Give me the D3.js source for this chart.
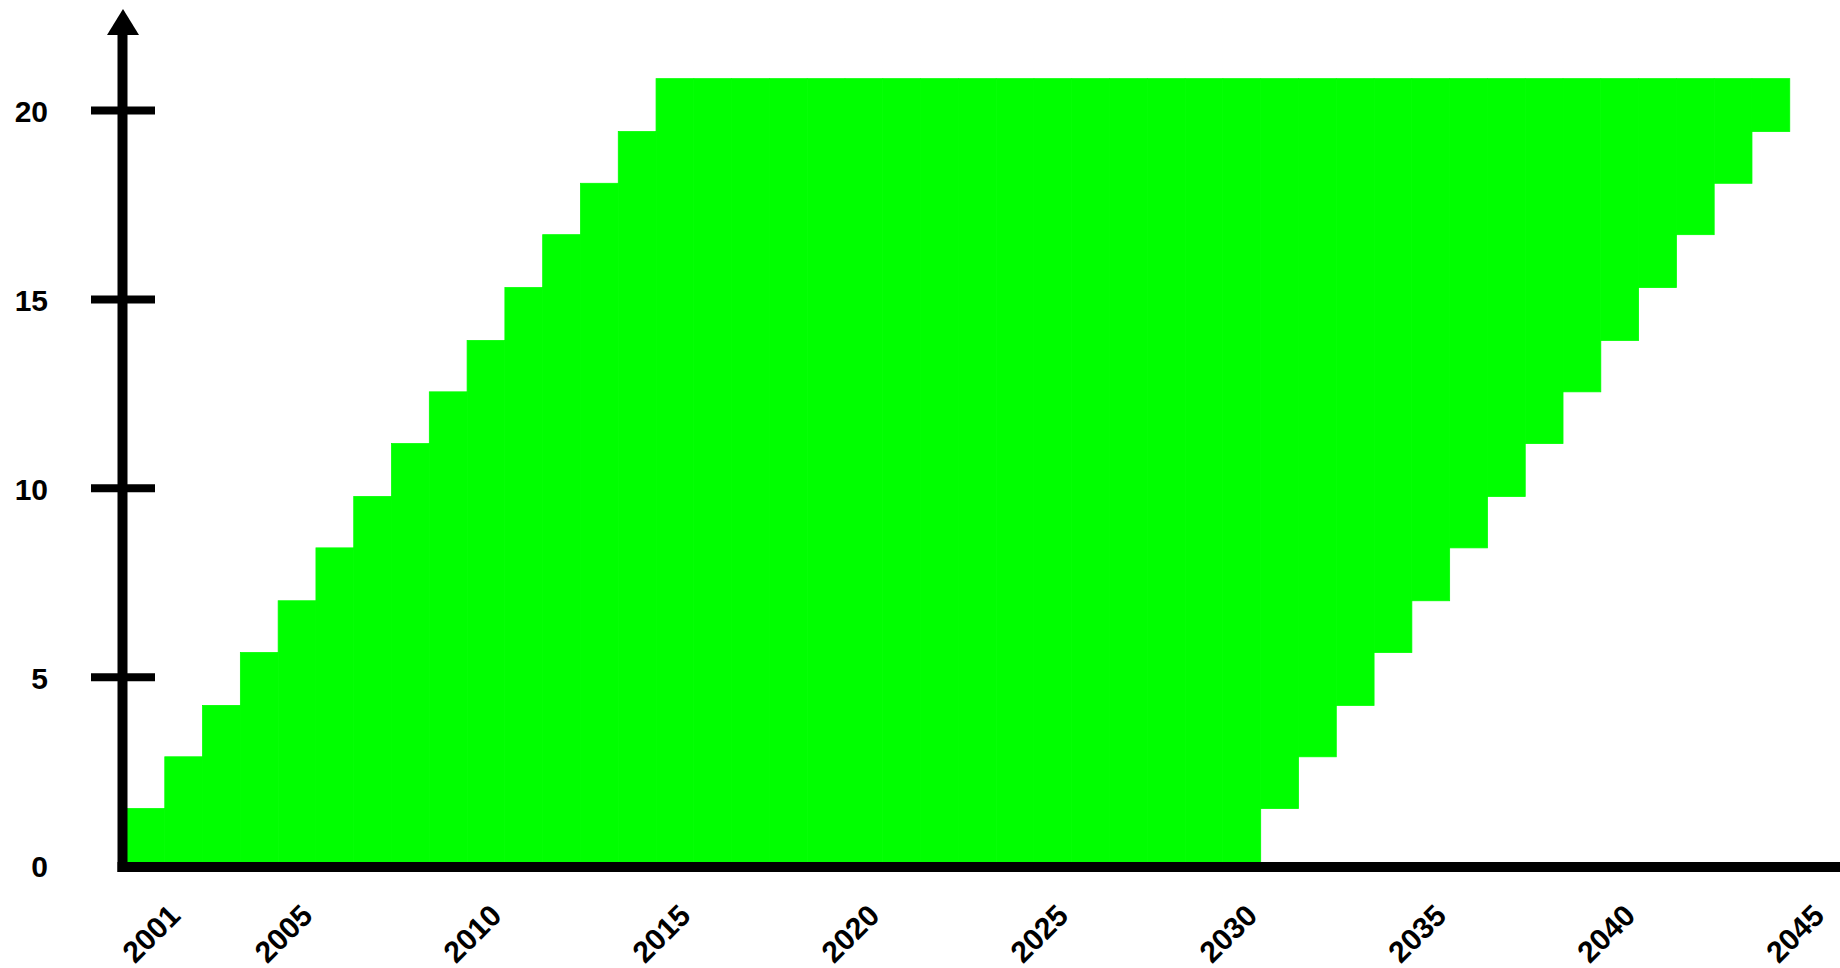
<!DOCTYPE html>
<html>
<head>
<meta charset="utf-8">
<script src="https://cdn.jsdelivr.net/npm/d3@7"></script>
<style>
body { margin: 0; background: #fff; }
text { font-family: "Liberation Sans", Arial, Helvetica, sans-serif; font-weight: bold; fill: #000; }
</style>
</head>
<body>
<svg id="chart" width="1840" height="968"></svg>
<script>
// each block starts in its year and stays for lifeYears years
const startYears = [2001, 2002, 2003, 2004, 2005, 2006, 2007, 2008, 2009, 2010, 2011, 2012, 2013, 2014, 2015];
const blockSizes = [1.51, 1.37, 1.36, 1.40, 1.37, 1.40, 1.36, 1.40, 1.37, 1.36, 1.40, 1.40, 1.36, 1.37, 1.40];
const lifeYears = 30;

const years = [2001, 2002, 2003, 2004, 2005, 2006, 2007, 2008, 2009, 2010,
    2011, 2012, 2013, 2014, 2015, 2016, 2017, 2018, 2019, 2020,
    2021, 2022, 2023, 2024, 2025, 2026, 2027, 2028, 2029, 2030,
    2031, 2032, 2033, 2034, 2035, 2036, 2037, 2038, 2039, 2040,
    2041, 2042, 2043, 2044, 2045];
const xTickYears = [2001, 2005, 2010, 2015, 2020, 2025, 2030, 2035, 2040, 2045];
const yTickValues = [5, 10, 15, 20];

const svg = d3.select("#chart");
const width = +svg.attr("width");

const left = 127, band = 37.79;
const x = d3.scaleBand().domain(years).range([left, left + band * years.length]).padding(0);
const y = d3.scaleLinear().domain([0, 20]).range([865.6, 110]);

// low = blocks already retired, high = blocks started so far
const yearData = years.map(yr => {
    let low = 0, high = 0;
    startYears.forEach((s, i) => {
        if (s <= yr) high += blockSizes[i];
        if (s + lifeYears <= yr) low += blockSizes[i];
    });
    return { year: yr, low: low, high: high };
}).filter(d => d.high > d.low);

svg.append("g")
    .selectAll("rect")
    .data(yearData)
    .join("rect")
    .attr("x", d => x(d.year))
    .attr("width", x.bandwidth())
    .attr("y", d => y(d.high))
    .attr("height", d => y(d.low) - y(d.high))
    .attr("fill", "#00ff00")
    .attr("stroke", "#00ff00")
    .attr("stroke-width", 0.8);

// y axis ticks cross the axis line
const yAxis = svg.append("g")
    .attr("transform", "translate(155,0)")
    .call(d3.axisLeft(y).tickValues(yTickValues).tickSize(64).tickPadding(43));
yAxis.select(".domain").remove();
yAxis.selectAll(".tick line").attr("stroke", "#000").attr("stroke-width", 8);
yAxis.selectAll(".tick text")
    .attr("font-size", 30)
    .attr("dy", "0.38em")
    .style("font-family", "'Liberation Sans', Arial, sans-serif")
    .style("font-weight", "bold");

// zero label sits under the last tick, no tick mark for it
svg.append("text")
    .attr("x", 48)
    .attr("y", y(0))
    .attr("dy", "0.38em")
    .attr("text-anchor", "end")
    .attr("font-size", 30)
    .text("0");

// axis lines
svg.append("line")
    .attr("x1", 117.5).attr("x2", width)
    .attr("y1", 867).attr("y2", 867)
    .attr("stroke", "#000").attr("stroke-width", 10);
svg.append("line")
    .attr("x1", 122.5).attr("x2", 122.5)
    .attr("y1", 872).attr("y2", 33)
    .attr("stroke", "#000").attr("stroke-width", 10);
svg.append("path")
    .attr("d", "M107,35 L139,35 L123,9 Z")
    .attr("fill", "#000");

// year labels, rotated
svg.append("g")
    .selectAll("text")
    .data(xTickYears)
    .join("text")
    .attr("text-anchor", "middle")
    .attr("font-size", 30)
    .attr("transform", d => {
        const cx = x(d) + (d === years[0] ? x.bandwidth() / 2 : 0) + 5 + 7.6;
        return "translate(" + cx + ",941) rotate(-45)";
    })
    .text(d => d);
</script>
</body>
</html>
